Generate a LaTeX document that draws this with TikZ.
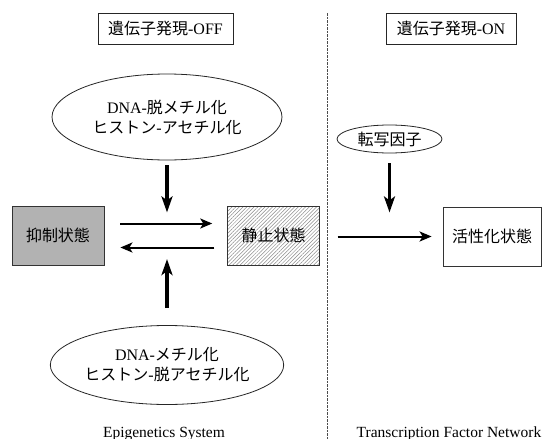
\documentclass[tikz,border=0pt]{standalone}
\usepackage{fontspec}
\setmainfont{Liberation Serif}
\newfontfamily\cjk{Noto Sans CJK JP}
\usetikzlibrary{shapes.geometric,arrows.meta,patterns.meta}
\begin{document}
\begin{tikzpicture}[x=1pt,y=-1pt,
  every node/.style={font=\fontsize{16}{20}\selectfont},
  titlebox/.style={draw=black!85,line width=0.8pt,minimum height=31pt,inner sep=0pt},
  statebox/.style={draw=black!80,line width=0.8pt,minimum width=92pt,minimum height=59pt,inner sep=0pt},
  oval/.style={ellipse,draw=black!85,line width=0.8pt,inner sep=0pt,align=center},
  varrow/.style={line width=3.5pt,-{Stealth[length=16pt,width=11pt,inset=4pt]}},
  harrow/.style={line width=2pt,-{Stealth[length=12pt,width=10pt,inset=3pt]}},
  divider/.style={draw=black!70,line width=1pt,dash pattern=on 2.5pt off 1pt},
  caption/.style={anchor=base,font=\fontsize{15.5}{18}\selectfont}
]
\useasboundingbox[fill=white] (0,0) rectangle (549,439);

\node[titlebox,minimum width=135pt] (off) at (165.5,28.5) {{\cjk 遺伝子発現}-OFF};
\node[titlebox,minimum width=130pt] (on) at (451,28.5) {{\cjk 遺伝子発現}-ON};

\coordinate (dtop) at (327,13);
\coordinate (dbot) at (327,439);
\draw[divider] (dtop) -- (dbot);

\node[oval,minimum width=230pt,minimum height=86pt] (e1) at (167,117)
  {DNA-{\cjk 脱メチル化}\\{\cjk ヒストン}-{\cjk アセチル化}};
\node[oval,minimum width=231pt,minimum height=79pt] (e2) at (167,365)
  {DNA-{\cjk メチル化}\\{\cjk ヒストン}-{\cjk 脱アセチル化}};
\node[oval,minimum width=105pt,minimum height=28pt] (tf) at (389.5,139) {\cjk 転写因子};

\node[statebox,fill=gray!60] (sup) at (58,235.5) {\cjk 抑制状態};
\node[statebox,pattern={Lines[angle=45,distance=2.6pt,line width=0.5pt]},pattern color=gray!90] (qui) at (273.5,235.5) {\cjk 静止状態};
\node[statebox,minimum width=98pt,fill=white] (act) at (492,236.5) {\cjk 活性化状態};

\draw[harrow] ([xshift=16pt,yshift=12pt]sup.east) -- ([xshift=-15pt,yshift=12pt]qui.west);
\draw[harrow] ([xshift=-13pt,yshift=-12pt]qui.west) -- ([xshift=16pt,yshift=-12pt]sup.east);

\draw[varrow] ([yshift=-5pt]e1.south) -- ([yshift=-52pt]e1.south);
\draw[varrow] ([yshift=17pt]e2.north) -- ([yshift=66pt]e2.north);
\draw[varrow] ([yshift=-10pt]tf.south) -- ([yshift=-59pt]tf.south);
\draw[harrow] ([xshift=-105pt]act.west) -- ([xshift=-11pt]act.west);

\node[caption] (lab1) at (164,437) {Epigenetics System};
\node[caption] (lab2) at (449,437) {Transcription Factor Network};
\end{tikzpicture}
\end{document}
